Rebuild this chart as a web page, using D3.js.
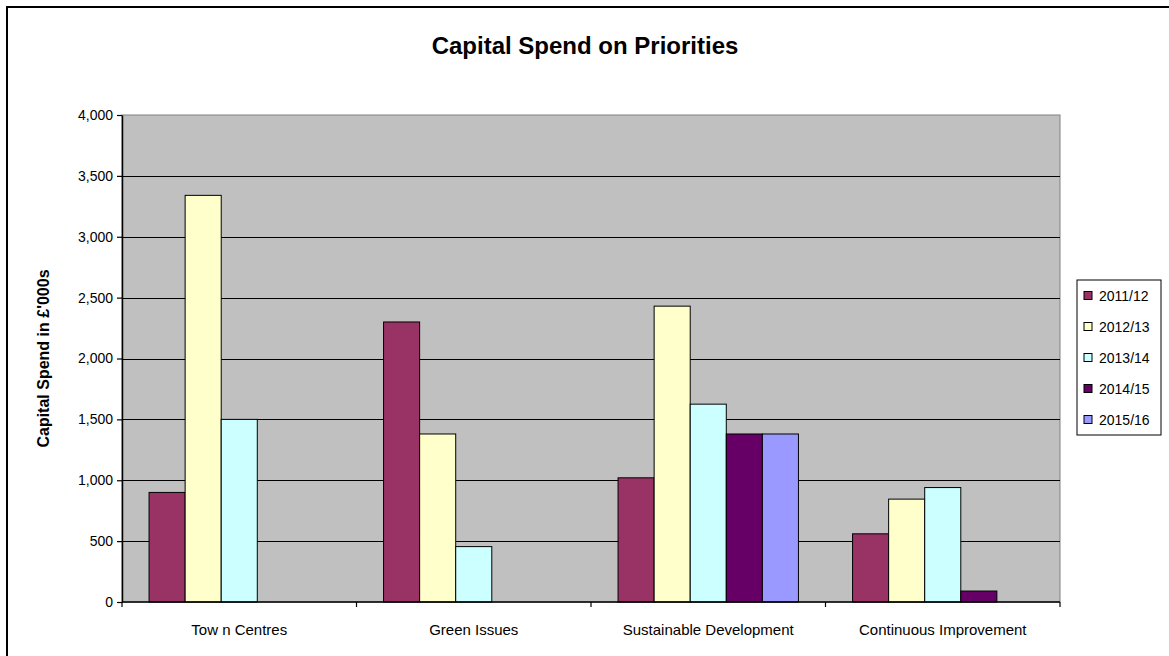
<!DOCTYPE html>
<html>
<head>
<meta charset="utf-8">
<script src="https://cdn.jsdelivr.net/npm/d3@7"></script>
<style>
  html, body { margin: 0; padding: 0; background: #fff; }
  svg { display: block; font-family: "Liberation Sans", Arial, sans-serif; }
</style>
</head>
<body>
<svg id="chart" width="1169" height="656"></svg>
<script>
const categories = ["Tow n Centres", "Green Issues", "Sustainable Development", "Continuous Improvement"];
const seriesNames = ["2011/12", "2012/13", "2013/14", "2014/15", "2015/16"];
const v2011 = [900, 2300, 1020, 560];
const v2012 = [3340, 1380, 2430, 845];
const v2013 = [1500, 455, 1625, 940];
const v2014 = [null, null, 1380, 90];
const v2015 = [null, null, 1380, null];
const seriesValues = [v2011, v2012, v2013, v2014, v2015];
const colors = ["#993366", "#FFFFCC", "#CCFFFF", "#660066", "#9999FF"];
const yTicks = [0, 500, 1000, 1500, 2000, 2500, 3000, 3500, 4000];

const svg = d3.select("#chart");
const W = 1169, H = 656;

// outer chart border
svg.append("rect").attr("x", 7).attr("y", 7).attr("width", W + 10).attr("height", H + 10)
  .attr("fill", "#fff").attr("stroke", "#000").attr("stroke-width", 2);

const plot = { left: 122, top: 115, right: 1060, bottom: 602 };

const x0 = d3.scaleBand().domain(categories).range([plot.left, plot.right]).paddingInner(0).paddingOuter(0);
// Excel gap width 150%: band = 5w + 1.5w
const x1 = d3.scaleBand().domain(seriesNames).range([0, x0.bandwidth()]).paddingInner(0).paddingOuter(0.75);
const y = d3.scaleLinear().domain([0, 4000]).range([plot.bottom, plot.top]);

// plot background
svg.append("rect").attr("x", plot.left).attr("y", plot.top)
  .attr("width", plot.right - plot.left).attr("height", plot.bottom - plot.top)
  .attr("fill", "#C0C0C0").attr("stroke", "#808080").attr("stroke-width", 1);

// gridlines
svg.append("g").selectAll("line").data(yTicks.filter(d => d > 0 && d < 4000)).join("line")
  .attr("x1", plot.left).attr("x2", plot.right)
  .attr("y1", d => Math.round(y(d)) + 0.5).attr("y2", d => Math.round(y(d)) + 0.5)
  .attr("stroke", "#000").attr("stroke-width", 1.2);

// bars
const data = [];
categories.forEach((c, ci) => {
  seriesNames.forEach((s, si) => {
    const v = seriesValues[si][ci];
    if (v != null) data.push({ c, s, v, color: colors[si] });
  });
});
svg.append("g").selectAll("rect").data(data).join("rect")
  .attr("x", d => x0(d.c) + x1(d.s))
  .attr("y", d => y(d.v))
  .attr("width", x1.bandwidth())
  .attr("height", d => y(0) - y(d.v))
  .attr("fill", d => d.color)
  .attr("stroke", "#000").attr("stroke-width", 1);

// y axis
const yAxis = d3.axisLeft(y).tickValues(yTicks).tickSize(5).tickSizeOuter(0)
  .tickFormat(d3.format(","));
const gy = svg.append("g").attr("transform", `translate(${plot.left},0)`).call(yAxis);
gy.select(".domain").attr("stroke", "#000").attr("stroke-width", 1.5);
gy.selectAll(".tick line").attr("stroke", "#000").attr("stroke-width", 1.2);
gy.selectAll("text").attr("font-size", 14).attr("fill", "#000").attr("x", -9)
  .attr("font-family", "Liberation Sans, Arial, sans-serif");

// x axis (ticks at category boundaries)
const boundaries = categories.map(c => x0(c)).concat([plot.right]);
const gx = svg.append("g");
gx.append("line").attr("x1", plot.left).attr("x2", plot.right)
  .attr("y1", plot.bottom).attr("y2", plot.bottom).attr("stroke", "#000").attr("stroke-width", 1.5);
gx.selectAll("line.tk").data(boundaries).join("line").attr("class", "tk")
  .attr("x1", d => d).attr("x2", d => d).attr("y1", plot.bottom).attr("y2", plot.bottom + 5)
  .attr("stroke", "#000").attr("stroke-width", 1.2);
gx.selectAll("text").data(categories).join("text")
  .attr("x", d => x0(d) + x0.bandwidth() / 2).attr("y", 635)
  .attr("text-anchor", "middle").attr("font-size", 15).attr("fill", "#000")
  .text(d => d);

// title
svg.append("text").attr("x", 585).attr("y", 54).attr("text-anchor", "middle")
  .attr("font-size", 24).attr("font-weight", "bold").text("Capital Spend on Priorities");

// y axis title
svg.append("text").attr("transform", `translate(49, ${(plot.top + plot.bottom) / 2}) rotate(-90)`)
  .attr("text-anchor", "middle").attr("font-size", 16).attr("font-weight", "bold")
  .text("Capital Spend in £'000s");

// legend
const lg = { x: 1077, y: 280, w: 84, h: 155 };
svg.append("rect").attr("x", lg.x).attr("y", lg.y).attr("width", lg.w).attr("height", lg.h)
  .attr("fill", "#fff").attr("stroke", "#000").attr("stroke-width", 1);
const rowH = lg.h / seriesNames.length;
const li = svg.append("g").selectAll("g").data(seriesNames).join("g")
  .attr("transform", (d, i) => `translate(${lg.x}, ${lg.y + rowH * (i + 0.5)})`);
li.append("rect").attr("x", 7).attr("y", -4).attr("width", 8).attr("height", 8)
  .attr("fill", (d, i) => colors[i]).attr("stroke", "#000").attr("stroke-width", 1);
li.append("text").attr("x", 22).attr("y", 5).attr("font-size", 14).text(d => d);
</script>
</body>
</html>
